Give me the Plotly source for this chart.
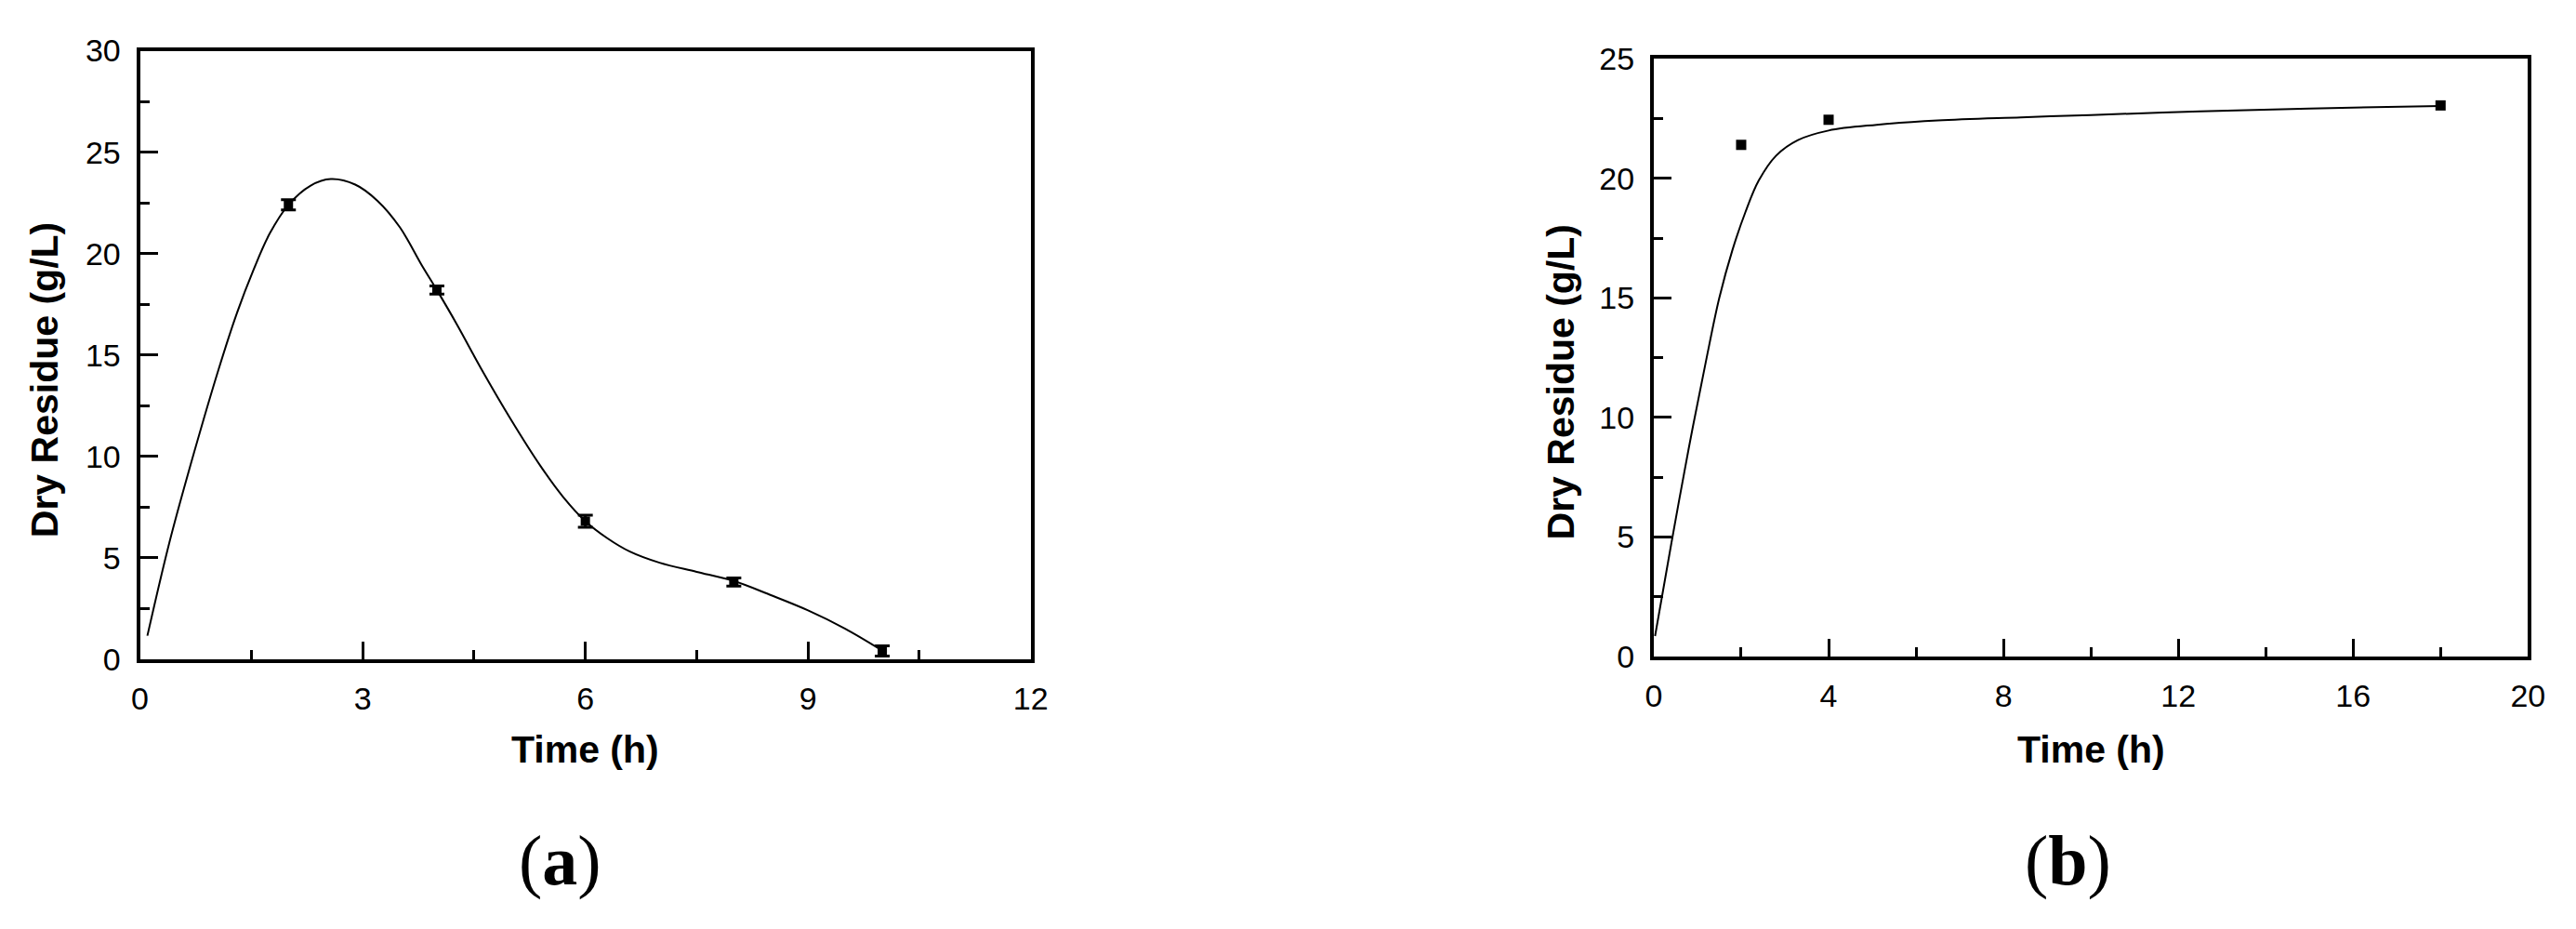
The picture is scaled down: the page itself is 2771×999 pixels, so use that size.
import plotly.graph_objects as go
from plotly.subplots import make_subplots

# (a) measured points with error bars
time_a = [2, 4, 6, 8, 10]
residue_a = [22.4, 18.2, 6.8, 3.8, 0.4]
err_a = [0.25, 0.2, 0.3, 0.2, 0.25]

# (a) smooth curve
fit_a_time = [0.1, 0.4, 0.73, 1.06, 1.3, 1.53, 1.75, 2.0, 2.3, 2.57, 2.9, 3.2, 3.5, 3.8, 4.0,
              4.27, 4.6, 5.0, 5.4, 5.7, 6.0, 6.3, 6.6, 7.0, 7.5, 8.0, 8.5, 9.0, 9.5, 10.0]
fit_a_residue = [1.15, 5.8, 10.2, 14.3, 17.0, 19.2, 21.0, 22.4, 23.35, 23.67, 23.4, 22.6, 21.3, 19.4, 18.2,
                 16.5, 14.3, 11.8, 9.5, 8.0, 6.8, 5.95, 5.3, 4.75, 4.3, 3.85, 3.15, 2.4, 1.5, 0.42]

# (b) measured points
time_b = [2, 4, 18]
residue_b = [21.4, 22.45, 23.05]

# (b) smooth curve
fit_b_time = [0.03, 0.4, 0.8, 1.2, 1.5, 1.8, 2.1, 2.4, 2.8, 3.3, 4.0,
              5.1, 6.5, 8.4, 10.0, 12.5, 15.0, 18.0]
fit_b_residue = [0.85, 4.7, 8.7, 12.4, 15.0, 17.0, 18.6, 19.9, 20.95, 21.6, 22.0,
                 22.24, 22.42, 22.55, 22.65, 22.8, 22.92, 23.03]

W, H = 2771, 999
tick_font = dict(family="Arial, Liberation Sans, sans-serif", size=34, color="black")
title_font = dict(family="Arial, Liberation Sans, sans-serif", size=41, color="black")
label_font = dict(family="Times New Roman, Liberation Serif, serif", size=76, color="black")

fig = make_subplots(rows=1, cols=2)

fig.add_trace(go.Scatter(x=fit_a_time, y=fit_a_residue, mode="lines",
                         line=dict(color="black", width=2, shape="spline", smoothing=1.0),
                         showlegend=False), row=1, col=1)
fig.add_trace(go.Scatter(x=time_a, y=residue_a, mode="markers",
                         marker=dict(symbol="square", size=10, color="black"),
                         error_y=dict(type="data", array=err_a, color="black", thickness=3, width=8),
                         cliponaxis=False, showlegend=False), row=1, col=1)

fig.add_trace(go.Scatter(x=fit_b_time, y=fit_b_residue, mode="lines",
                         line=dict(color="black", width=2, shape="spline", smoothing=1.0),
                         showlegend=False), row=1, col=2)
fig.add_trace(go.Scatter(x=time_b, y=residue_b, mode="markers",
                         marker=dict(symbol="square", size=11, color="black"),
                         cliponaxis=False, showlegend=False), row=1, col=2)

axis_common = dict(showline=True, linecolor="black", linewidth=4, mirror=True,
                   showgrid=False, zeroline=False, ticks="inside", tickcolor="black",
                   tickwidth=3, ticklen=19, tickfont=tick_font)

fig.update_xaxes(axis_common, ticklabelstandoff=9)
fig.update_yaxes(axis_common, ticklabelstandoff=10)

fig.update_xaxes(range=[0, 12], tick0=0, dtick=3,
                 minor=dict(dtick=1.5, ticks="inside", ticklen=10, tickwidth=3, tickcolor="black"),
                 domain=[143 / W, 1111 / W], row=1, col=1)
fig.update_yaxes(range=[0, 30], tick0=0, dtick=5,
                 minor=dict(dtick=2.5, ticks="inside", ticklen=10, tickwidth=3, tickcolor="black"),
                 domain=[1 - 717 / H, 1 - 37 / H], row=1, col=1)
fig.update_xaxes(range=[0, 20], tick0=0, dtick=4,
                 minor=dict(dtick=2, ticks="inside", ticklen=10, tickwidth=3, tickcolor="black"),
                 domain=[1788 / W, 2738 / W], row=1, col=2)
fig.update_yaxes(range=[0, 25], tick0=0, dtick=5,
                 minor=dict(dtick=2.5, ticks="inside", ticklen=10, tickwidth=3, tickcolor="black"),
                 domain=[1 - 714 / H, 1 - 46 / H], row=1, col=2)

# axis titles and panel labels
ann = [
    dict(text="<b>Time (h)</b>", x=627 / W, y=1 - 818 / H, font=title_font),
    dict(text="<b>Time (h)</b>", x=2263 / W, y=1 - 818 / H, font=title_font),
    dict(text="<b>Dry Residue (g/L)</b>", x=39 / W, y=1 - 405 / H, textangle=-90, font=title_font),
    dict(text="<b>Dry Residue (g/L)</b>", x=1687 / W, y=1 - 407 / H, textangle=-90, font=title_font),
    dict(text="(<b>a</b>)", x=600 / W, y=1 - 942 / H, font=label_font),
    dict(text="(<b>b</b>)", x=2238 / W, y=1 - 942 / H, font=label_font),
]
for a in ann:
    fig.add_annotation(xref="paper", yref="paper", showarrow=False,
                       xanchor="center", yanchor="middle", **a)

fig.update_layout(width=W, height=H, margin=dict(l=0, r=0, t=0, b=0),
                  paper_bgcolor="white", plot_bgcolor="white")

fig.write_html("out.html", config={"displayModeBar": False},
               post_script="document.body.style.margin='0';")
